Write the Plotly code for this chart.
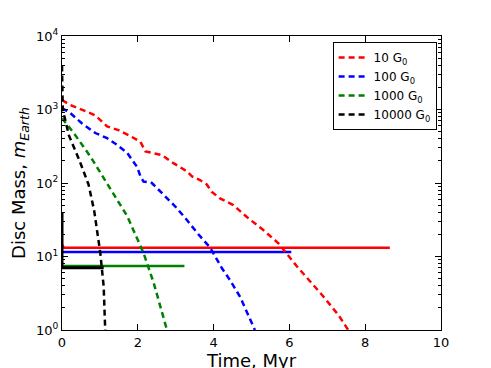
import plotly.graph_objects as go

# dashed curves: disc mass vs time for each FUV field strength
t_10 = [0, 0.22, 0.66, 0.88, 1.19, 1.49, 1.76, 2.07, 2.2, 2.37, 2.64, 2.94, 3.29, 3.43,
        3.64, 3.82, 3.95, 4.17, 4.52, 4.87, 5.31, 5.71, 6.19, 6.89, 7.3, 7.55]
logm_10 = [3.13, 3.06, 2.97, 2.92, 2.77, 2.72, 2.65, 2.56, 2.43, 2.41, 2.38, 2.27, 2.16, 2.09,
           2.04, 1.98, 1.88, 1.79, 1.70, 1.54, 1.36, 1.18, 0.87, 0.46, 0.2, 0.0]

t_100 = [0, 0.22, 0.53, 0.88, 1.19, 1.45, 1.72, 1.98, 2.07, 2.15, 2.37, 2.68, 2.99, 3.29,
         3.6, 3.91, 4.22, 4.43, 4.7, 5.09]
logm_100 = [3.02, 2.95, 2.81, 2.68, 2.61, 2.52, 2.41, 2.22, 2.09, 2.02, 2.0, 1.84, 1.68, 1.50,
            1.30, 1.12, 0.84, 0.68, 0.45, 0.0]

t_1000 = [0, 0.31, 0.75, 1.19, 1.72, 2.15, 2.42, 2.77]
logm_1000 = [2.88, 2.68, 2.36, 2.0, 1.55, 1.05, 0.64, 0.0]

t_10000 = [0, 0.02, 0.18, 0.45, 0.7, 0.85, 1.01, 1.1, 1.14]
logm_10000 = [3.6, 3.0, 2.65, 2.32, 1.98, 1.62, 1.05, 0.59, 0.0]

# solid lines
solid_t = {"red": [0, 0.05, 8.65], "blue": [0, 6.05], "green": [0, 3.23], "black": [0, 0, 1.1]}
solid_m = {"red": [14.5, 13.2, 13.2], "blue": [11.5, 11.5], "green": [7.4, 7.4],
           "black": [40, 7.05, 7.05]}

labels = ["10 G<sub>0</sub>", "100 G<sub>0</sub>", "1000 G<sub>0</sub>", "10000 G<sub>0</sub>"]
colors = ["red", "blue", "green", "black"]

fig = go.Figure()

for c in colors:
    fig.add_trace(go.Scatter(
        x=solid_t[c], y=solid_m[c], mode="lines",
        line=dict(color=c, width=3 if c == "black" else 2.5),
        showlegend=False, hoverinfo="skip",
    ))

series = [(t_10, logm_10), (t_100, logm_100), (t_1000, logm_1000), (t_10000, logm_10000)]
for (t, lm), name, c in zip(series, labels, colors):
    fig.add_trace(go.Scatter(
        x=t, y=[10 ** v for v in lm], mode="lines", name=name,
        line=dict(color=c, width=2.5, dash="6px,4px"),
    ))

# margins allow for the 8px page margin round the plot div
fig.update_layout(
    width=491, height=368,
    margin=dict(l=53.5, r=57.5, t=28, b=45.5),
    plot_bgcolor="white", paper_bgcolor="white",
    font=dict(family="DejaVu Sans", color="black", size=13),
    legend=dict(
        x=0.714, y=0.98, xanchor="left", yanchor="top",
        bordercolor="black", borderwidth=1, bgcolor="white",
        font=dict(size=12), tracegroupgap=0, itemwidth=30,
    ),
    xaxis=dict(
        range=[0, 10], tickvals=[0, 2, 4, 6, 8, 10], automargin=False,
        title=dict(text="Time, Myr", font=dict(size=18), standoff=1),
        showline=True, linecolor="black", linewidth=1, mirror="allticks",
        ticks="inside", ticklen=6, tickcolor="black", showgrid=False, zeroline=False,
    ),
    yaxis=dict(
        type="log", range=[0, 4], automargin=False,
        tickvals=[1, 10, 100, 1000, 10000],
        ticktext=["10<sup>0</sup>", "10<sup>1</sup>", "10<sup>2</sup>", "10<sup>3</sup>", "10<sup>4</sup>"],
        title=dict(text="Disc Mass, <i>m</i><sub><i>Earth</i></sub>", font=dict(size=18), standoff=7),
        showline=True, linecolor="black", linewidth=1, mirror="allticks",
        ticks="inside", ticklen=6, tickcolor="black", showgrid=False, zeroline=False,
        minor=dict(ticks="inside", ticklen=3, tickcolor="black", dtick="D1", showgrid=False),
    ),
)

fig.write_html("out.html")
